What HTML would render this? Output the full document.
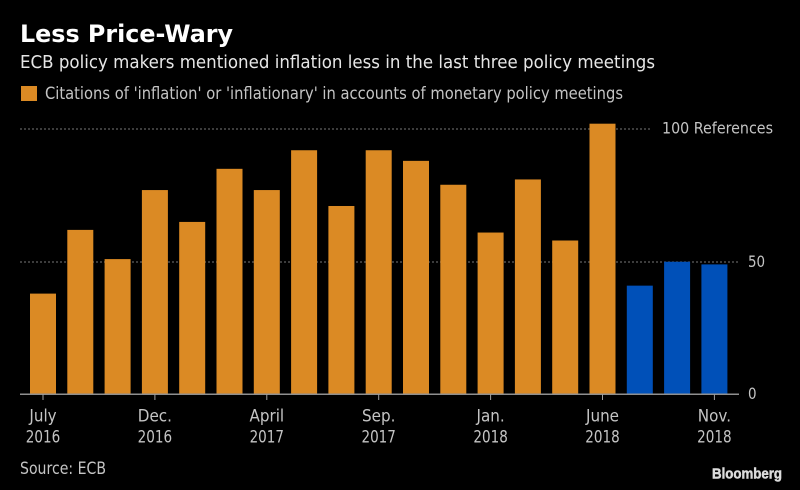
<!DOCTYPE html>
<html lang="en">
<head>
<meta charset="utf-8">
<title>Less Price-Wary</title>
<style>
html,body{margin:0;padding:0;background:#000;}
svg{display:block;}
text{font-family:"DejaVu Sans","Liberation Sans",sans-serif;}
</style>
</head>
<body>
<svg id="chart" xmlns="http://www.w3.org/2000/svg" width="800" height="490" viewBox="0 0 800 490">
  <rect width="800" height="490" fill="#000"/>
  <text x="20" y="42" font-size="24" font-weight="700" fill="#fff" textLength="213" lengthAdjust="spacingAndGlyphs">Less Price-Wary</text>
  <text x="20" y="68" font-size="18" fill="#e6e6e6" textLength="635" lengthAdjust="spacingAndGlyphs">ECB policy makers mentioned inflation less in the last three policy meetings</text>
  <rect x="21" y="86" width="16" height="15" fill="#db8a24"/>
  <text x="45" y="99" font-size="16.5" fill="#c4c4c4" textLength="578" lengthAdjust="spacingAndGlyphs">Citations of 'inflation' or 'inflationary' in accounts of monetary policy meetings</text>
  <g id="grid"></g>
  <g id="bars"></g>
  <g id="xaxis"></g>
  <g id="yaxis"></g>
  <text x="20" y="474" font-size="16.5" fill="#c4c4c4" textLength="86" lengthAdjust="spacingAndGlyphs">Source: ECB</text>
  <text x="712" y="478.5" font-size="15" font-weight="700" fill="#dcdcdc" stroke="#dcdcdc" stroke-width="0.5" style="font-family:'Liberation Sans',sans-serif" textLength="70" lengthAdjust="spacingAndGlyphs">Bloomberg</text>
</svg>
<script>
const values = [38, 62, 51, 77, 65, 85, 77, 92, 71, 92, 88, 79, 61, 81, 58, 102, 41, 50, 49];
const highlighted = [16, 17, 18];
const monthLabels = ['July', 'Dec.', 'April', 'Sep.', 'Jan.', 'June', 'Nov.'];
const yearLabels = ['2016', '2016', '2017', '2017', '2018', '2018', '2018'];
const tickEvery = 3;
const yTicks = [0, 50, 100];
const yTickLabels = ['0', '50', '100 References'];

const NS = 'http://www.w3.org/2000/svg';
const xScale = i => 43 + i * 37.3;
const yScale = v => 394.5 - v * 2.655;
const barWidth = 26;

function make(parent, tag, attrs, txt) {
  const el = document.createElementNS(NS, tag);
  for (const k in attrs) el.setAttribute(k, attrs[k]);
  if (txt !== undefined) el.textContent = txt;
  parent.appendChild(el);
  return el;
}

function squeeze(el, k) {
  const w = el.getComputedTextLength();
  el.setAttribute('textLength', (w * k).toFixed(2));
  el.setAttribute('lengthAdjust', 'spacingAndGlyphs');
}

const gridG = document.getElementById('grid');
const barsG = document.getElementById('bars');
const xG = document.getElementById('xaxis');
const yG = document.getElementById('yaxis');

yTicks.forEach((t, i) => {
  const y = Math.round(yScale(t));
  if (t !== 0) {
    const gl = make(gridG, 'line', {x1: 20, x2: t === 100 ? 650 : 739, y1: y, y2: y, stroke: '#787878', 'stroke-width': 1, 'stroke-dasharray': '2 2'});
    
    
  }
  const lab = make(yG, 'text', {x: t === 100 ? 662 : 748, y: yScale(t) + (t === 0 ? 4.5 : t === 50 ? 5 : 4.5), 'font-size': 16, fill: '#c4c4c4'}, yTickLabels[i]);
  
  
  if (t === 100) {
    lab.setAttribute('textLength', 111);
    lab.setAttribute('lengthAdjust', 'spacingAndGlyphs');
  } else {
    squeeze(lab, 0.84);
  }
});

values.forEach((v, i) => {
  const isBlue = highlighted.indexOf(i) >= 0;
  const top = yScale(v);
  const r = make(barsG, 'rect', {x: xScale(i) - barWidth / 2, y: top, width: barWidth, height: yScale(0) - top, fill: isBlue ? '#0050b8' : '#db8a24'});
  
  
});

const axisLine = make(xG, 'rect', {x: 20, y: 393.5, width: 719, height: 1.5, fill: '#8f8f8f'});



monthLabels.forEach((m, i) => {
  const x = xScale(i * tickEvery);
  const tick = make(xG, 'line', {x1: x, x2: x, y1: 394, y2: 400, stroke: '#a0a0a0', 'stroke-width': 1});
  
  
  const month = make(xG, 'text', {x: x, y: 421.5, 'font-size': 16.5, fill: '#c4c4c4', 'text-anchor': 'middle'}, m);
  
  
  squeeze(month, 0.92);
  const year = make(xG, 'text', {x: x, y: 442.5, 'font-size': 16.5, fill: '#c4c4c4', 'text-anchor': 'middle'}, yearLabels[i]);
  
  
  squeeze(year, 0.82);
});
</script>
</body>
</html>
